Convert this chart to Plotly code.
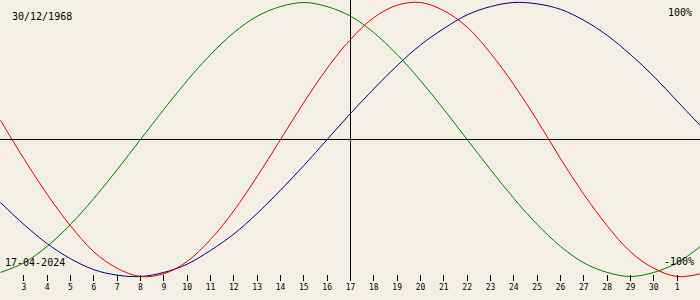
import plotly.graph_objects as go

# Days of April 2024 (day 31 = 1 May, day 32 = 2 May)
days = list(range(2, 33))
tick_days = list(range(3, 32))
tick_labels = [str(d) for d in range(3, 31)] + ["1"]

physical = [0.14, -0.14, -0.40, -0.63, -0.82, -0.94, -1.00, -0.98, -0.89, -0.73,
            -0.52, -0.27, 0.00, 0.27, 0.52, 0.73, 0.89, 0.98, 1.00, 0.94,
            0.82, 0.63, 0.40, 0.14, -0.14, -0.40, -0.63, -0.82, -0.94, -1.00, -0.98]
emotional = [-0.97, -0.90, -0.78, -0.62, -0.43, -0.22, 0.00, 0.22, 0.43, 0.62,
             0.78, 0.90, 0.97, 1.00, 0.97, 0.90, 0.78, 0.62, 0.43, 0.22,
             0.00, -0.22, -0.43, -0.62, -0.78, -0.90, -0.97, -1.00, -0.97, -0.90, -0.78]
intellectual = [-0.46, -0.62, -0.76, -0.87, -0.95, -0.99, -1.00, -0.97, -0.91, -0.81,
                -0.69, -0.54, -0.37, -0.19, 0.00, 0.19, 0.37, 0.54, 0.69, 0.81,
                0.91, 0.97, 1.00, 0.99, 0.95, 0.87, 0.76, 0.62, 0.46, 0.28, 0.10]

today = 17
birth_label = "30/12/1968"
date_label = "17-04-2024"

BG = "#f3efe4"
fig = go.Figure()
for vals, col in [(intellectual, "#000080"), (emotional, "#008000"), (physical, "#e00000")]:
    fig.add_trace(go.Scatter(x=days, y=vals, mode="lines",
                             line=dict(color=col, width=1, shape="spline", smoothing=1.0),
                             showlegend=False, hoverinfo="skip"))

fig.add_shape(type="line", xref="x", yref="paper", x0=today, x1=today, y0=0, y1=1,
              line=dict(color="black", width=1))

font_main = dict(family="DejaVu Sans Mono", size=10, color="black")
fig.add_annotation(text=birth_label, xref="paper", yref="paper", x=0.0143, y=0.943,
                   xanchor="left", yanchor="middle", showarrow=False, font=font_main)
fig.add_annotation(text="100%", xref="paper", yref="paper", x=0.991, y=0.957,
                   xanchor="right", yanchor="middle", showarrow=False, font=font_main)
fig.add_annotation(text=date_label, xref="paper", yref="paper", x=0.004, y=0.066,
                   xanchor="left", yanchor="middle", showarrow=False, font=font_main)
fig.add_annotation(text="-100%", xref="paper", yref="paper", x=0.994, y=0.068,
                   xanchor="right", yanchor="middle", showarrow=False, font=font_main)

dx = 0.5 * 30 / 700  # half-pixel shift for crisp 1px vertical line
fig.update_layout(
    width=700, height=300,
    margin=dict(l=0, r=0, t=0, b=19),
    paper_bgcolor=BG, plot_bgcolor=BG,
    xaxis=dict(range=[2 - dx, 32 - dx], tickvals=tick_days, ticktext=tick_labels,
               ticks="inside", ticklen=6, tickwidth=1, tickcolor="black",
               showgrid=False, zeroline=False, showline=False,
               tickfont=dict(family="DejaVu Sans Mono", size=8, color="black")),
    yaxis=dict(range=[-1.0328, 1.0182], showticklabels=False, ticks="",
               showgrid=False, zeroline=True, zerolinecolor="black", zerolinewidth=1,
               showline=False),
)
fig.write_html("out.html")
